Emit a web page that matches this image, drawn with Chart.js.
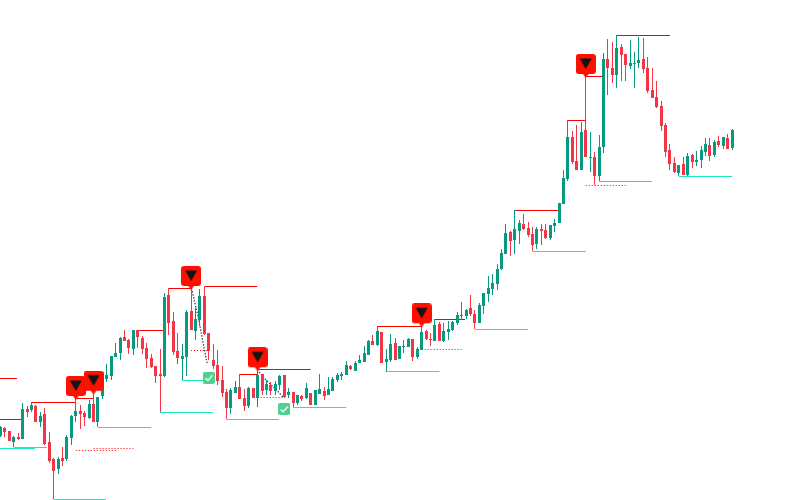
<!DOCTYPE html>
<html lang="en">
<head>
  <meta charset="UTF-8">
  <title>Candles with levels</title>
  <script src="https://cdn.jsdelivr.net/npm/chart.js"></script>
  <style>
    html, body { margin: 0; padding: 0; background: #fff; }
    canvas { display: block; }
  </style>
</head>
<body>
  <canvas id="chart" width="811" height="500"></canvas>
  <script>
    // OHLC per candle
    const opens = [64,72,69,58,63,61,91,90,94,78,86,58,41,31,42,41,62,84,89,87,82,96,78,104,121,124,143,147,163,160,151,170,162,152,142,134,126,124,205,179,149,141,143,189,169,180,204,167,140,135,120,108,92,107,113,102,94,112,102,126,110,115,109,115,125,105,108,97,104,102,107,95,106,109,105,109,120,124,125,134,129,137,138,145,159,155,168,138,140,157,141,153,153,161,143,150,169,161,159,176,159,168,170,177,184,184,192,186,177,194,206,211,216,231,246,268,260,269,276,272,266,256,271,270,262,274,277,296,321,363,339,330,370,342,343,324,353,441,432,425,453,446,434,436,437,441,432,410,403,394,375,350,337,327,336,325,345,338,340,348,355,345,359,354,362,352];
    const highs = [74,73,69,64,67,97,94,98,95,88,92,68,42,43,53,65,85,103,95,89,100,108,103,128,136,144,157,163,170,161,170,170,164,157,146,134,151,207,212,188,167,156,190,212,192,211,213,167,156,150,134,111,112,119,126,111,113,112,131,126,120,118,119,125,125,112,108,105,105,117,107,110,126,113,123,123,127,128,139,135,139,145,154,160,165,174,168,151,166,162,154,160,162,161,153,176,170,167,181,178,177,179,179,188,198,191,205,190,197,207,224,226,236,251,276,269,290,280,286,278,273,273,276,276,275,281,297,330,380,369,375,378,426,368,348,365,447,461,458,465,456,446,460,448,463,462,443,432,419,399,377,356,343,335,343,347,346,349,354,362,362,360,364,363,366,371];
    const lows = [63,63,59,53,60,61,83,88,78,73,55,37,1,26,34,39,55,78,71,74,81,78,73,101,118,120,143,140,159,146,145,152,146,132,132,117,88,123,165,145,136,120,124,170,160,174,165,140,131,115,103,81,86,107,101,89,92,102,93,105,105,105,105,110,102,102,93,95,99,101,95,95,106,100,105,109,118,120,125,130,129,137,138,145,155,154,137,128,138,140,141,147,153,139,141,150,160,154,159,159,158,160,169,175,180,181,184,171,177,186,198,205,210,230,246,244,246,256,270,263,249,251,255,261,260,268,277,296,319,336,330,330,343,328,315,319,347,405,417,412,419,419,431,412,432,427,407,402,392,369,343,330,327,324,325,324,332,334,332,344,339,343,353,351,351,350];
    const closes = [73,68,59,63,61,91,88,95,78,84,56,39,29,41,39,63,84,89,86,83,96,78,103,123,125,144,147,162,159,152,170,163,151,141,133,124,124,203,177,148,142,144,188,170,181,204,166,149,134,119,107,92,110,113,101,94,112,102,125,109,116,109,116,124,103,108,97,105,101,112,95,110,111,104,111,121,125,126,135,131,137,140,147,159,155,169,137,141,156,140,154,154,161,143,151,168,161,160,175,159,169,171,178,185,185,190,186,177,195,207,212,217,231,247,267,259,271,277,271,265,255,271,269,262,275,277,297,322,363,338,330,368,343,343,324,353,441,432,425,452,445,435,437,437,440,431,409,402,393,374,348,336,328,335,325,344,338,340,350,356,344,358,355,363,351,370];

    // levels: [from candle, to candle, price]
    const redLevels = [[-1,3.75,121.5],[-1,4.7,80.5],[7,17,97.5],[17,21,101.5],[31,37,169.5],[38,43,211.5],[46,57.9,213.5],[54,58,125.5],[58,70,130.5],[85,95,173.5],[98,104.8,180.5],[116,125.7,289.5],[128,132,379.5],[132,136,423.5],[139,151,464.5]];
    const tealLevels = [[-1,7.8,51.5],[3,10.5,52.5],[12,23.8,0.5],[22,34,72.5],[36,48,87.5],[41,48.4,119.5],[51,62.8,80.5],[66,78,92.5],[87,99,128.5],[107,119,170.5],[120,132,248.5],[135,147,318.5],[153,165,323.5]];
    const dottedLevels = [[17,26,49.5],[21,30,51.5],[43,46.6,149.5],[58,64,102.5],[95,104,150.5],[132,141,314.5]];

    // dotted drops from a sell signal to its target
    const dropPaths = [
      [[43.1,211.7],[44.6,183],[46.6,137]],
      [[58.3,128],[60.1,119],[61.9,112],[63.7,103]]
    ];

    // signal badges: [candle, price]
    const sellSignals = [[17,111.5],[21,116.8],[43,221.5],[58,140.2],[95,184.2],[132,433.5]];
    const targetHits = [[47,122.3],[64,91]];

    const GREEN = '#089981';
    const RED = '#f23645';

    const isUp = i => closes[i] >= opens[i];
    const candleColors = opens.map((o, i) => isUp(i) ? GREEN : RED);

    // flatten [from, to, price] into one line with gaps
    function levelPoints(list) {
      const pts = [];
      list.forEach(l => {
        pts.push({ x: l[0], y: l[2] }, { x: l[1], y: l[2] }, { x: l[1], y: null });
      });
      return pts;
    }

    function pathPoints(paths) {
      const pts = [];
      paths.forEach(p => {
        p.forEach(a => pts.push({ x: a[0], y: a[1] }));
        pts.push({ x: p[p.length - 1][0], y: null });
      });
      return pts;
    }

    function sellBadge() {
      const c = document.createElement('canvas');
      c.width = 20; c.height = 25;
      const g = c.getContext('2d');
      g.fillStyle = '#ff0f00';
      g.beginPath();
      g.roundRect(0, 0, 20, 20, 3);
      g.fill();
      g.beginPath();
      g.moveTo(6.5, 19); g.lineTo(13.5, 19); g.lineTo(10, 24);
      g.closePath();
      g.fill();
      g.fillStyle = '#131313';
      g.beginPath();
      g.moveTo(4, 4.5); g.lineTo(16, 4.5); g.lineTo(10, 15);
      g.closePath();
      g.fill();
      return c;
    }

    function checkBadge() {
      const c = document.createElement('canvas');
      c.width = 12; c.height = 12;
      const g = c.getContext('2d');
      g.fillStyle = '#4fd08f';
      g.beginPath();
      g.roundRect(0, 0, 12, 12, 2);
      g.fill();
      g.strokeStyle = '#ffffff';
      g.lineWidth = 1.3;
      g.beginPath();
      g.moveTo(2.5, 6.5); g.lineTo(5, 8.8); g.lineTo(9.5, 3.5);
      g.stroke();
      return c;
    }

    const line = (data, color, extra) => Object.assign({
      type: 'line', data: data, borderColor: color, borderWidth: 1,
      pointRadius: 0, spanGaps: false, tension: 0, order: 3
    }, extra);

    // keep candles on whole pixels so they stay sharp
    const snapCandles = {
      id: 'snapCandles',
      beforeDatasetsDraw(chart) {
        [0, 1].forEach(d => {
          chart.getDatasetMeta(d).data.forEach(el => { el.x = Math.floor(el.x) + 0.5; });
        });
      }
    };

    new Chart(document.getElementById('chart'), {
      type: 'bar',
      plugins: [snapCandles],
      data: {
        datasets: [
          { label: 'bodies', data: opens.map((o, i) => ({ x: i, y: [o, closes[i]] })),
            backgroundColor: candleColors, barThickness: 3, inflateAmount: 0, grouped: false, order: 1 },
          { label: 'wicks', data: opens.map((o, i) => ({ x: i, y: [lows[i], highs[i]] })),
            backgroundColor: candleColors, barThickness: 1, inflateAmount: 0, grouped: false, order: 2 },
          line(levelPoints(redLevels), '#ff0000'),
          line(levelPoints(tealLevels), '#1de9b6'),
          line(levelPoints(dottedLevels), '#ff0000', { borderDash: [1, 2] }),
          line(pathPoints(dropPaths), '#444444', { borderDash: [1.5, 1.5], borderWidth: 1.3 }),
          { type: 'line', showLine: false, order: 0, pointStyle: sellBadge(),
            data: sellSignals.map(s => ({ x: s[0], y: s[1] })) },
          { type: 'line', showLine: false, order: 0, pointStyle: checkBadge(),
            data: targetHits.map(s => ({ x: s[0], y: s[1] })) }
        ]
      },
      options: {
        responsive: false,
        animation: false,
        layout: { padding: 0, autoPadding: false },
        plugins: { legend: { display: false }, tooltip: { enabled: false } },
        scales: {
          x: { type: 'linear', min: -0.09, max: 182.8, offset: false, display: false },
          y: { min: 0, max: 500, display: false }
        }
      }
    });
  </script>
</body>
</html>
